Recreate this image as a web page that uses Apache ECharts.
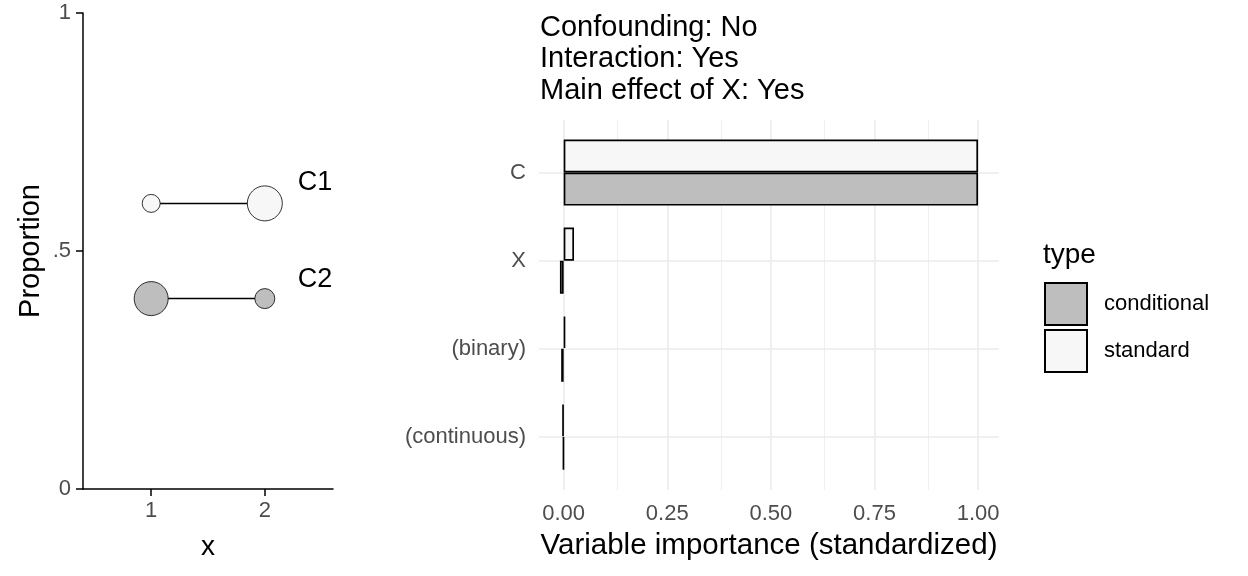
<!DOCTYPE html>
<html>
<head>
<meta charset="utf-8">
<script src="https://cdn.jsdelivr.net/npm/echarts@6/dist/echarts.min.js"></script>
<style>
html,body{margin:0;padding:0;background:#fff;}
#chart{width:1248px;height:576px;}
</style>
</head>
<body>
<div id="chart"></div>
<script>
// ---- Left panel data ----
const propX = [1, 2];
const c1Prop = [0.6, 0.6];
const c2Prop = [0.4, 0.4];
const c1Size = [18, 35];
const c2Size = [34, 20];
const propTicks = [0, 0.5, 1];
const propTickLabels = ['0', '.5', '1'];
const xTicks = [1, 2];

// ---- Right panel data (bottom to top) ----
const categories = ['(continuous)', '(binary)', 'X', 'C'];
const conditional = [-0.001, -0.006, -0.009, 1.0];
const standard = [-0.003, 0.004, 0.025, 1.0];
const impTicks = [0, 0.25, 0.5, 0.75, 1];
const impMinor = [0.125, 0.375, 0.625, 0.875];

const FONT = '"Liberation Sans", Arial, sans-serif';
const IMP_MIN = -0.0595, IMP_MAX = 1.0505;
const chart = echarts.init(document.getElementById('chart'));

function pts(xs, ys, sizes) {
  return xs.map((x, i) => ({ value: [x, ys[i]], symbolSize: sizes[i] }));
}

const vGridData = []
  .concat(impMinor.map(v => ({ xAxis: v, lineStyle: { color: '#ebebeb', width: 0.8, type: 'solid' } })))
  .concat(impTicks.map(v => ({ xAxis: v, lineStyle: { color: '#ebebeb', width: 1.6, type: 'solid' } })));
const hGridData = categories.map(c => ({ yAxis: c, lineStyle: { color: '#ebebeb', width: 1.6, type: 'solid' } }));

const option = {
  animation: false,
  textStyle: { fontFamily: FONT },
  title: [
    {
      text: 'Confounding: No\nInteraction: Yes\nMain effect of X: Yes',
      left: 540, top: 12, padding: 0,
      textStyle: { fontFamily: FONT, fontSize: 29, fontWeight: 'normal', color: '#000', lineHeight: 31.5 }
    },
    {
      text: 'type', left: 1043, top: 241, padding: 0,
      textStyle: { fontFamily: FONT, fontSize: 28, fontWeight: 'normal', color: '#000' }
    }
  ],
  legend: {
    data: ['conditional', 'standard'],
    orient: 'vertical', left: 1044, top: 282,
    itemWidth: 42, itemHeight: 42, itemGap: 3, padding: 0,
    icon: 'rect',
    textStyle: { fontFamily: FONT, fontSize: 22, color: '#000', padding: [0, 0, 0, 12] }
  },
  grid: [
    { left: 83, top: 13, width: 250, height: 476 },
    { left: 539, top: 128.5, width: 460, height: 352.4 },
    { left: 539, top: 120, width: 460, height: 370 }
  ],
  xAxis: [
    {
      gridIndex: 0, type: 'value', min: 0.4, max: 2.6,
      axisLine: { show: true, onZero: false, lineStyle: { color: '#000', width: 1.5 } },
      axisTick: { show: true, customValues: xTicks, length: 7, lineStyle: { color: '#000', width: 1.5 } },
      axisLabel: { customValues: xTicks, color: '#4d4d4d', fontSize: 22, margin: 11, fontFamily: FONT },
      splitLine: { show: false },
      name: 'x', nameLocation: 'middle', nameGap: 44,
      nameTextStyle: { fontSize: 28, color: '#000', fontFamily: FONT }
    },
    {
      gridIndex: 1, type: 'value', min: IMP_MIN, max: IMP_MAX,
      axisLine: { show: false }, axisTick: { show: false }, axisLabel: { show: false },
      splitLine: { show: false }
    },
    {
      gridIndex: 2, type: 'value', min: IMP_MIN, max: IMP_MAX,
      axisLine: { show: false }, axisTick: { show: false },
      axisLabel: { customValues: impTicks, formatter: v => v.toFixed(2), color: '#4d4d4d', fontSize: 22, margin: 13, fontFamily: FONT },
      splitLine: { show: false },
      name: 'Variable importance (standardized)', nameLocation: 'middle', nameGap: 41,
      nameTextStyle: { fontSize: 29.5, color: '#000', fontFamily: FONT }
    }
  ],
  yAxis: [
    {
      gridIndex: 0, type: 'value', min: 0, max: 1, interval: 0.5,
      axisLine: { show: true, onZero: false, lineStyle: { color: '#000', width: 1.5 } },
      axisTick: { show: true, length: 7, lineStyle: { color: '#000', width: 1.5 } },
      axisLabel: { formatter: v => propTickLabels[propTicks.indexOf(v)] ?? '', color: '#4d4d4d', fontSize: 22, margin: 12, fontFamily: FONT },
      splitLine: { show: false },
      name: 'Proportion', nameLocation: 'middle', nameRotate: 90, nameGap: 38,
      nameTextStyle: { fontSize: 29, color: '#000', fontFamily: FONT }
    },
    {
      gridIndex: 1, type: 'category', data: categories,
      axisLine: { show: false }, axisTick: { show: false },
      axisLabel: { color: '#4d4d4d', fontSize: 22, margin: 13, fontFamily: FONT },
      splitLine: { show: false }
    },
    {
      gridIndex: 2, type: 'value', min: 0, max: 1,
      axisLine: { show: false }, axisTick: { show: false }, axisLabel: { show: false },
      splitLine: { show: false }
    }
  ],
  series: [
    {
      name: 'C1', type: 'line', xAxisIndex: 0, yAxisIndex: 0,
      data: pts(propX, c1Prop, c1Size), symbol: 'circle', showAllSymbol: true,
      lineStyle: { color: '#000', width: 1.5 },
      itemStyle: { color: '#f7f7f7', borderColor: '#000', borderWidth: 0.8 },
      endLabel: { show: true, formatter: 'C1', fontSize: 27, color: '#000', fontFamily: FONT, offset: [25, -21] },
      emphasis: { disabled: true }, z: 3
    },
    {
      name: 'C2', type: 'line', xAxisIndex: 0, yAxisIndex: 0,
      data: pts(propX, c2Prop, c2Size), symbol: 'circle', showAllSymbol: true,
      lineStyle: { color: '#000', width: 1.5 },
      itemStyle: { color: '#bebebe', borderColor: '#000', borderWidth: 0.8 },
      endLabel: { show: true, formatter: 'C2', fontSize: 27, color: '#000', fontFamily: FONT, offset: [25, -19] },
      emphasis: { disabled: true }, z: 3
    },
    {
      name: 'vgrid', type: 'line', xAxisIndex: 2, yAxisIndex: 2, data: [], z: 0,
      markLine: { silent: true, z: 0, symbol: ['none', 'none'], label: { show: false }, animation: false, data: vGridData }
    },
    {
      name: 'hgrid', type: 'line', xAxisIndex: 1, yAxisIndex: 1, data: [], z: 0,
      markLine: { silent: true, z: 0, symbol: ['none', 'none'], label: { show: false }, animation: false, data: hGridData }
    },
    {
      name: 'standard', type: 'bar', xAxisIndex: 1, yAxisIndex: 1, data: standard,
      barCategoryGap: '25%', barGap: '0%',
      itemStyle: { color: '#f7f7f7', borderColor: '#000', borderWidth: 1.7 },
      emphasis: { disabled: true }, z: 4
    },
    {
      name: 'conditional', type: 'bar', xAxisIndex: 1, yAxisIndex: 1, data: conditional,
      barCategoryGap: '25%', barGap: '0%',
      itemStyle: { color: '#bebebe', borderColor: '#000', borderWidth: 1.7 },
      emphasis: { disabled: true }, z: 4
    }
  ]
};
chart.setOption(option);
</script>
</body>
</html>
